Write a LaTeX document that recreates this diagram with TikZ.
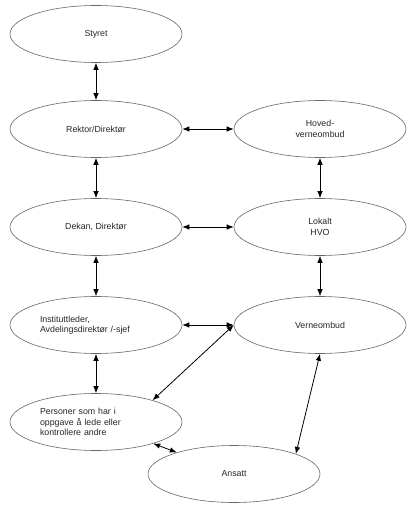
\documentclass[tikz,border=0pt]{standalone}
\usepackage{fontspec}
\setmainfont{Liberation Sans}
\usetikzlibrary{shapes.geometric,arrows.meta}

\tikzset{
  enhet/.style={ellipse,draw=black!60,line width=0.6pt,minimum width=172pt,minimum height=57pt,inner sep=0pt,font=\fontsize{8.8}{10.5}\selectfont,text=black!85},
  venstretekst/.style={text width=112pt,align=left},
  pil/.style={line width=0.8pt,{Latex[length=7pt,width=5.5pt]}-{Latex[length=7pt,width=5.5pt]}}
}

\begin{document}
\begin{tikzpicture}[x=1pt,y=-1pt]
\useasboundingbox (0,0) rectangle (412,508);
% venstre kolonne
\node[enhet] (styret) at (96,34) {Styret};
\node[enhet] (rektor) at (96,129) {Rektor/Direktør};
\node[enhet] (dekan) at (96,227) {Dekan, Direktør};
\node[enhet,venstretekst] (institutt) at (96,325) {Instituttleder,\\Avdelingsdirektør /-sjef};
\node[enhet,venstretekst] (personer) at (96,422) {Personer som har i\\oppgave å lede eller\\kontrollere andre};
\node[enhet] (ansatt) at (234,474) {Ansatt};
% høyre kolonne
\node[enhet,align=center] (hvo) at (320,129) {Hoved-\\verneombud};
\node[enhet,align=center] (lokalt) at (320,227) {Lokalt\\HVO};
\node[enhet] (verneombud) at (320,325) {Verneombud};

\draw[pil] (styret) -- (rektor);
\draw[pil] (rektor) -- (dekan);
\draw[pil] (dekan) -- (institutt);
\draw[pil] (institutt) -- (personer);
\draw[pil] (hvo) -- (lokalt);
\draw[pil] (lokalt) -- (verneombud);
\draw[pil] (rektor) -- (hvo);
\draw[pil] (dekan) -- (lokalt);
\draw[pil] (institutt) -- (verneombud);
\draw[pil] (verneombud.west) -- (personer.21);
\draw[pil] (personer) -- (ansatt);
\draw[pil] (verneombud.south) -- (ansatt.18);
\end{tikzpicture}
\end{document}
